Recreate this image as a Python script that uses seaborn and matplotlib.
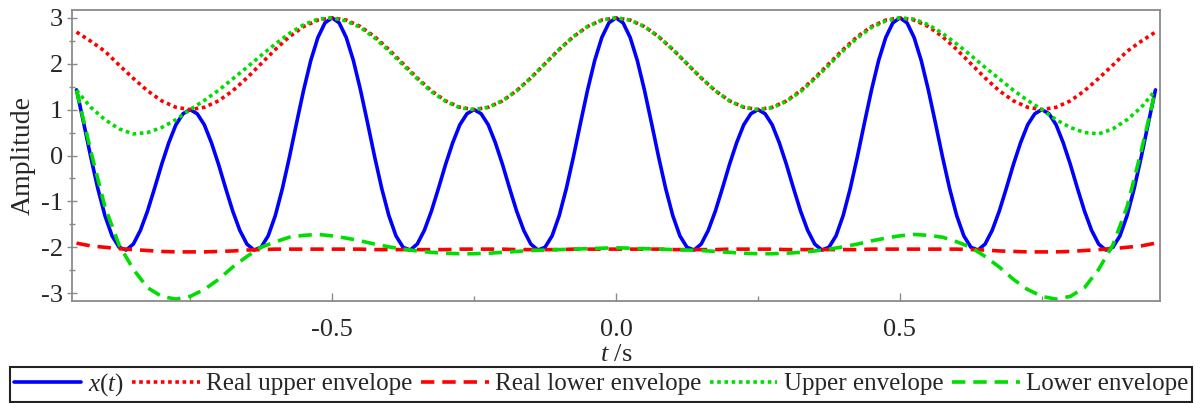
import numpy as np
import pandas as pd
import matplotlib
matplotlib.use("Agg")
import matplotlib.pyplot as plt
import seaborn as sns
from matplotlib.ticker import MultipleLocator, FixedLocator

# ---------------- data ----------------
t_signal = [
    -0.95, -0.9375, -0.925, -0.9125,
    -0.9, -0.8875, -0.875, -0.8625, -0.85, -0.8375, -0.825, -0.8125,
    -0.8, -0.7875, -0.775, -0.7625, -0.75, -0.7375, -0.725, -0.7125,
    -0.7, -0.6875, -0.675, -0.6625, -0.65, -0.6375, -0.625, -0.6125,
    -0.6, -0.5875, -0.575, -0.5625, -0.55, -0.5375, -0.525, -0.5125,
    -0.5, -0.4875, -0.475, -0.4625, -0.45, -0.4375, -0.425, -0.4125,
    -0.4, -0.3875, -0.375, -0.3625, -0.35, -0.3375, -0.325, -0.3125,
    -0.3, -0.2875, -0.275, -0.2625, -0.25, -0.2375, -0.225, -0.2125,
    -0.2, -0.1875, -0.175, -0.1625, -0.15, -0.1375, -0.125, -0.1125,
    -0.1, -0.0875, -0.075, -0.0625, -0.05, -0.0375, -0.025, -0.0125,
    0.0, 0.0125, 0.025, 0.0375, 0.05, 0.0625, 0.075, 0.0875,
    0.1, 0.1125, 0.125, 0.1375, 0.15, 0.1625, 0.175, 0.1875,
    0.2, 0.2125, 0.225, 0.2375, 0.25, 0.2625, 0.275, 0.2875,
    0.3, 0.3125, 0.325, 0.3375, 0.35, 0.3625, 0.375, 0.3875,
    0.4, 0.4125, 0.425, 0.4375, 0.45, 0.4625, 0.475, 0.4875,
    0.5, 0.5125, 0.525, 0.5375, 0.55, 0.5625, 0.575, 0.5875,
    0.6, 0.6125, 0.625, 0.6375, 0.65, 0.6625, 0.675, 0.6875,
    0.7, 0.7125, 0.725, 0.7375, 0.75, 0.7625, 0.775, 0.7875,
    0.8, 0.8125, 0.825, 0.8375, 0.85, 0.8625, 0.875, 0.8875,
    0.9, 0.9125, 0.925, 0.9375, 0.95,
]

x_signal = [
    1.43, 0.71, -0.03, -0.72, -1.31, -1.75, -2.00, -2.06, -1.93, -1.63, -1.21, -0.71, -0.19, 0.28, 0.67, 0.91,
    1.00, 0.91, 0.67, 0.28, -0.19, -0.71, -1.21, -1.63, -1.93, -2.06, -2.00, -1.75, -1.31, -0.72, -0.03, 0.71, 1.43, 2.07, 2.57, 2.89, 3.00,
    2.89, 2.57, 2.07, 1.43, 0.71, -0.03, -0.72, -1.31, -1.75, -2.00, -2.06, -1.93, -1.63, -1.21, -0.71, -0.19, 0.28, 0.67, 0.91, 1.00,
    0.91, 0.67, 0.28, -0.19, -0.71, -1.21, -1.63, -1.93, -2.06, -2.00, -1.75, -1.31, -0.72, -0.03, 0.71, 1.43, 2.07, 2.57, 2.89, 3.00,
    2.89, 2.57, 2.07, 1.43, 0.71, -0.03, -0.72, -1.31, -1.75, -2.00, -2.06, -1.93, -1.63, -1.21, -0.71, -0.19, 0.28, 0.67, 0.91, 1.00,
    0.91, 0.67, 0.28, -0.19, -0.71, -1.21, -1.63, -1.93, -2.06, -2.00, -1.75, -1.31, -0.72, -0.03, 0.71, 1.43, 2.07, 2.57, 2.89, 3.00,
    2.89, 2.57, 2.07, 1.43, 0.71, -0.03, -0.72, -1.31, -1.75, -2.00, -2.06, -1.93, -1.63, -1.21, -0.71, -0.19, 0.28, 0.67, 0.91, 1.00,
    0.91, 0.67, 0.28, -0.19, -0.71, -1.21, -1.63, -1.93, -2.06, -2.00, -1.75, -1.31, -0.72, -0.03, 0.71, 1.43,
]

t_env = [
    -0.95, -0.925, -0.9, -0.875, -0.85, -0.825, -0.8, -0.775,
    -0.75, -0.725, -0.7, -0.675, -0.65, -0.625, -0.6, -0.575,
    -0.55, -0.525, -0.5, -0.475, -0.45, -0.425, -0.4, -0.375,
    -0.35, -0.325, -0.3, -0.275, -0.25, -0.225, -0.2, -0.175,
    -0.15, -0.125, -0.1, -0.075, -0.05, -0.025, 0.0,
    0.025, 0.05, 0.075, 0.1, 0.125, 0.15, 0.175, 0.2,
    0.225, 0.25, 0.275, 0.3, 0.325, 0.35, 0.375, 0.4,
    0.425, 0.45, 0.475, 0.5, 0.525, 0.55, 0.575, 0.6,
    0.625, 0.65, 0.675, 0.7, 0.725, 0.75, 0.775, 0.8,
    0.825, 0.85, 0.875, 0.9, 0.925, 0.95,
]

real_upper = [
    2.69, 2.49, 2.27, 1.97, 1.68, 1.41, 1.19, 1.05,
    1.00, 1.05, 1.19, 1.41, 1.69, 2.00, 2.31, 2.59,
    2.81, 2.95, 3.00, 2.95, 2.81, 2.59, 2.31, 2.00,
    1.69, 1.41, 1.19, 1.05, 1.00, 1.05, 1.19, 1.41,
    1.69, 2.00, 2.31, 2.59, 2.81, 2.95, 3.00,
    2.95, 2.81, 2.59, 2.31, 2.00, 1.69, 1.41, 1.19,
    1.05, 1.00, 1.05, 1.19, 1.41, 1.69, 2.00, 2.31,
    2.59, 2.81, 2.95, 3.00, 2.95, 2.81, 2.59, 2.31,
    2.00, 1.69, 1.41, 1.19, 1.05, 1.00, 1.05, 1.19,
    1.41, 1.68, 1.97, 2.27, 2.49, 2.69,
]

real_lower = [
    -1.91, -1.97, -2.00, -2.03, -2.05, -2.07, -2.09, -2.10,
    -2.10, -2.10, -2.09, -2.08, -2.06, -2.05, -2.04, -2.04,
    -2.04, -2.04, -2.04, -2.04, -2.04, -2.05, -2.05, -2.05,
    -2.05, -2.05, -2.05, -2.04, -2.04, -2.04, -2.04, -2.05,
    -2.05, -2.05, -2.05, -2.04, -2.04, -2.04, -2.04,
    -2.04, -2.04, -2.04, -2.05, -2.05, -2.05, -2.05, -2.04,
    -2.04, -2.04, -2.04, -2.05, -2.05, -2.05, -2.05, -2.05,
    -2.05, -2.04, -2.04, -2.04, -2.04, -2.04, -2.04, -2.04,
    -2.05, -2.06, -2.08, -2.09, -2.10, -2.10, -2.10, -2.09,
    -2.07, -2.05, -2.03, -2.00, -1.97, -1.91,
]

upper_env = [
    1.42, 1.05, 0.78, 0.58, 0.47, 0.50, 0.61, 0.78,
    1.00, 1.20, 1.42, 1.67, 1.92, 2.18, 2.43, 2.66,
    2.85, 2.97, 3.00, 2.93, 2.79, 2.56, 2.28, 1.97,
    1.67, 1.39, 1.18, 1.04, 1.00, 1.05, 1.19, 1.41,
    1.69, 2.00, 2.31, 2.59, 2.81, 2.95, 3.00,
    2.95, 2.81, 2.59, 2.31, 2.00, 1.69, 1.41, 1.19,
    1.05, 1.00, 1.04, 1.18, 1.39, 1.67, 1.97, 2.28,
    2.56, 2.79, 2.93, 3.00, 2.97, 2.85, 2.66, 2.43,
    2.18, 1.92, 1.67, 1.42, 1.20, 1.00, 0.78, 0.61,
    0.50, 0.47, 0.58, 0.78, 1.05, 1.42,
]

lower_env = [
    1.42, 0.10, -1.12, -1.95, -2.48, -2.88, -3.07, -3.13,
    -3.07, -2.92, -2.70, -2.43, -2.20, -2.00, -1.88, -1.78,
    -1.74, -1.72, -1.75, -1.80, -1.86, -1.93, -1.99, -2.04,
    -2.08, -2.11, -2.13, -2.14, -2.14, -2.13, -2.11, -2.09,
    -2.07, -2.06, -2.05, -2.04, -2.03, -2.02, -2.01,
    -2.02, -2.03, -2.04, -2.05, -2.06, -2.07, -2.09, -2.11,
    -2.13, -2.14, -2.14, -2.13, -2.11, -2.08, -2.04, -1.99,
    -1.93, -1.86, -1.80, -1.75, -1.72, -1.74, -1.78, -1.88,
    -2.00, -2.20, -2.43, -2.70, -2.92, -3.07, -3.13, -3.07,
    -2.88, -2.48, -1.95, -1.12, 0.10, 1.42,
]

series_labels = [r"$x(t)$", "Real upper envelope", "Real lower envelope",
                 "Upper envelope", "Lower envelope"]
x_tick_labels = ["-0.5", "0.0", "0.5"]
y_tick_labels = ["-3", "-2", "-1", "0", "1", "2", "3"]

# ---------------- style ----------------
sns.set_theme(style="white")
plt.rcParams["font.family"] = ["Liberation Serif", "DejaVu Serif"]
plt.rcParams["mathtext.fontset"] = "custom"
plt.rcParams["mathtext.rm"] = "Liberation Serif"
plt.rcParams["mathtext.it"] = "Liberation Serif:italic"
plt.rcParams["axes.unicode_minus"] = False

fig = plt.figure(figsize=(12.02, 4.03), dpi=100)
ax = fig.add_axes([72 / 1202, 1 - 301 / 403, (1160 - 72) / 1202, (301 - 10) / 403])

blue = "#0000FF"
red = "#FF0000"
green = "#00DD00"
lw = 2.6

df_sig = pd.DataFrame({"t": t_signal, "v": x_signal})
df_env = pd.DataFrame({"t": t_env, "ru": real_upper, "rl": real_lower,
                       "ue": upper_env, "le": lower_env})

sns.lineplot(data=df_sig, x="t", y="v", ax=ax, color=blue, lw=lw,
             label=series_labels[0], sort=False)
sns.lineplot(data=df_env, x="t", y="ru", ax=ax, color=red, lw=lw,
             linestyle=(0, (1, 1)), label=series_labels[1], sort=False)
sns.lineplot(data=df_env, x="t", y="rl", ax=ax, color=red, lw=lw,
             linestyle=(0, (3.7, 2.2)), label=series_labels[2], sort=False)
sns.lineplot(data=df_env, x="t", y="ue", ax=ax, color=green, lw=lw,
             linestyle=(0, (1, 1)), label=series_labels[3], sort=False)
sns.lineplot(data=df_env, x="t", y="le", ax=ax, color=green, lw=lw,
             linestyle=(0, (3.7, 2.2)), label=series_labels[4], sort=False)

ax.set_xlim(-0.958, 0.958)
ax.set_ylim(-3.17, 3.17)

ax.xaxis.set_major_locator(FixedLocator([-0.5, 0.0, 0.5]))
ax.set_xticklabels(x_tick_labels)
ax.xaxis.set_minor_locator(FixedLocator([-0.75, -0.25, 0.25, 0.75]))
ax.yaxis.set_major_locator(FixedLocator([-3, -2, -1, 0, 1, 2, 3]))
ax.set_yticklabels(y_tick_labels)
ax.yaxis.set_minor_locator(MultipleLocator(0.5))

spine_c = "#8a8a8a"
for s in ax.spines.values():
    s.set_color(spine_c)
    s.set_linewidth(1.3)

ax.tick_params(axis="x", which="major", direction="in", length=6, width=1.0,
               color=spine_c, labelsize=19, pad=13, bottom=True)
ax.tick_params(axis="x", which="minor", direction="in", length=3.3, width=1.0,
               color=spine_c, bottom=True)
ax.tick_params(axis="y", which="major", direction="inout", length=7, width=1.0,
               color=spine_c, labelsize=19, pad=3, left=True)
ax.tick_params(axis="y", which="minor", direction="inout", length=4, width=1.0,
               color=spine_c, left=True)

ax.set_xlabel(r"$t$ /s", fontsize=19, labelpad=2)
ax.set_ylabel("Amplitude", fontsize=20, labelpad=4)
ax.grid(False)

handles, labels = ax.get_legend_handles_labels()
ax.get_legend().remove()
leg = fig.legend(handles, labels, loc="lower center",
                 bbox_to_anchor=(0.5, 1.5 / 403), ncol=5, fontsize=18,
                 frameon=True, fancybox=False, edgecolor="#222222",
                 framealpha=1, handlelength=2.7, handletextpad=0.25,
                 columnspacing=0.35, borderpad=0.15, borderaxespad=0)
leg.get_frame().set_linewidth(1.5)

fig.savefig("out.png", dpi=100)
